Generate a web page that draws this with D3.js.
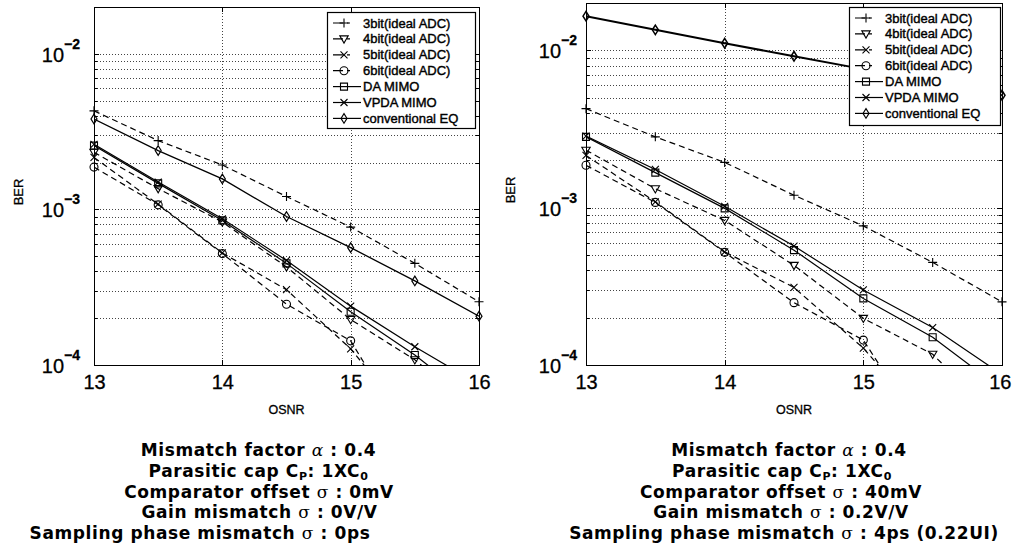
<!DOCTYPE html>
<html><head><meta charset="utf-8">
<script src="https://cdn.jsdelivr.net/npm/d3@7"></script>
<style>
html,body{margin:0;padding:0;background:#fff;}
svg{display:block;}
</style></head>
<body>
<script>
// ---------- data ----------
const osnr = [13, 13.5, 14, 14.5, 15, 15.5, 16];
const xTickValues = [13, 14, 15, 16];
const yTickExponents = [-4, -3, -2];
const seriesNames = ["3bit(ideal ADC)", "4bit(ideal ADC)", "5bit(ideal ADC)", "6bit(ideal ADC)", "DA MIMO", "VPDA MIMO", "conventional EQ"];
const seriesMarkers = ["plus", "triDown", "cross", "circle", "square", "cross", "diamond"];
const seriesDashed = [true, true, true, true, false, false, false];

// left panel (no mismatch)
const left3bit = [4.3e-3, 2.77e-3, 1.93e-3, 1.21e-3, 7.7e-4, 4.5e-4, 2.55e-4];
const left4bit = [2.33e-3, 1.36e-3, 8.3e-4, 4.27e-4, 1.96e-4, 1.08e-4, 5.0e-5];
const left5bit = [2.16e-3, 1.08e-3, 5.25e-4, 3.05e-4, 1.27e-4, 4.0e-5, 1.2e-5];
const left6bit = [1.87e-3, 1.07e-3, 5.2e-4, 2.46e-4, 1.43e-4, 3.0e-5, 1.0e-5];
const leftDA = [2.57e-3, 1.47e-3, 8.5e-4, 4.5e-4, 2.2e-4, 1.16e-4, 5.5e-5];
const leftVPDA = [2.62e-3, 1.5e-3, 8.7e-4, 4.7e-4, 2.39e-4, 1.31e-4, 7.5e-5];
const leftConvEQ = [3.81e-3, 2.39e-3, 1.57e-3, 9.0e-4, 5.68e-4, 3.47e-4, 2.06e-4];

// right panel (with mismatch)
const right3bit = [4.26e-3, 2.82e-3, 1.94e-3, 1.2e-3, 7.66e-4, 4.49e-4, 2.52e-4];
const right4bit = [2.32e-3, 1.32e-3, 8.3e-4, 4.3e-4, 1.98e-4, 1.17e-4, 4.3e-5];
const right5bit = [2.15e-3, 1.09e-3, 5.24e-4, 3.11e-4, 1.28e-4, 4.0e-5, 1.2e-5];
const right6bit = [1.86e-3, 1.08e-3, 5.2e-4, 2.49e-4, 1.44e-4, 3.0e-5, 1.0e-5];
const rightDA = [2.82e-3, 1.67e-3, 9.9e-4, 5.37e-4, 2.65e-4, 1.5e-4, 7.0e-5];
const rightVPDA = [2.85e-3, 1.75e-3, 1.02e-3, 5.7e-4, 3.0e-4, 1.73e-4, 8.7e-5];
const rightConvEQ = [1.65e-2, 1.35e-2, 1.11e-2, 9.17e-3, 7.6e-3, 6.3e-3, 5.18e-3];

const leftCaption = ["Mismatch factor |α| : 0.4", "Parasitic cap C_P: 1XC_0", "Comparator offset |σ| : 0mV", "Gain mismatch |σ| : 0V/V", "Sampling phase mismatch |σ| : 0ps"];
const rightCaption = ["Mismatch factor |α| : 0.4", "Parasitic cap C_P: 1XC_0", "Comparator offset |σ| : 40mV", "Gain mismatch |σ| : 0.2V/V", "Sampling phase mismatch |σ| : 4ps (0.22UI)"];

// ---------- layout ----------
const W = 1012, H = 554;
const panels = [
  {id: "L", x0: 94, x1: 479, y0: 7, y1: 365, series: [left3bit, left4bit, left5bit, left6bit, leftDA, leftVPDA, leftConvEQ],
   legend: {x: 327, y: 12, w: 148, h: 116}, yLabGap: 14, berX: 19, convW: 1.3,
   caption: leftCaption, capX: [258.5, 258.5, 259, 259.5, 200]},
  {id: "R", x0: 586, x1: 1002, y0: 3, y1: 365, series: [right3bit, right4bit, right5bit, right6bit, rightDA, rightVPDA, rightConvEQ],
   legend: {x: 849, y: 7, w: 151, h: 118}, yLabGap: 9, berX: 511, convW: 2,
   caption: rightCaption, capX: [789, 782, 781, 781, 784]}
];
const FONT = "'Liberation Sans', Arial, Helvetica, sans-serif";

const svg = d3.select("body").append("svg").attr("width", W).attr("height", H);

function markerPath(type) {
  switch (type) {
    case "plus": return "M-4.5,0H4.5M0,-4.5V4.5";
    case "cross": return "M-3.5,-3.5L3.5,3.5M-3.5,3.5L3.5,-3.5";
    case "triDown": return "M-4.2,-3L4.2,-3L0,4.2Z";
    case "circle": return "M4,0A4,4 0 1,1 -4,0A4,4 0 1,1 4,0Z";
    case "square": return "M-3.5,-3.5H3.5V3.5H-3.5Z";
    case "diamond": return "M0,-4.8L3,0L0,4.8L-3,0Z";
  }
}

panels.forEach(p => {
  const x = d3.scaleLinear().domain([13, 16]).range([p.x0, p.x1]);
  const y = d3.scaleLog().domain([1e-4, 2e-2]).range([p.y1, p.y0]);
  const g = svg.append("g");

  // grid
  const minorVals = [];
  for (let e = -4; e <= -2; e++) for (let k = 1; k <= 9; k++) {
    const v = k * Math.pow(10, e);
    if (v > 1e-4 * 1.001 && v < 2e-2 * 0.999) minorVals.push(v);
  }
  g.append("g").selectAll("line").data(minorVals).join("line")
    .attr("x1", p.x0).attr("x2", p.x1)
    .attr("y1", d => Math.round(y(d)) + 0.5).attr("y2", d => Math.round(y(d)) + 0.5)
    .attr("stroke", "#444").attr("stroke-width", 1).attr("stroke-dasharray", "1,2");
  g.append("g").selectAll("line").data([14, 15]).join("line")
    .attr("x1", d => Math.round(x(d)) + 0.5).attr("x2", d => Math.round(x(d)) + 0.5)
    .attr("y1", p.y0).attr("y2", p.y1)
    .attr("stroke", "#444").attr("stroke-width", 1).attr("stroke-dasharray", "1,2");

  // ticks (inward, all four sides)
  const tk = g.append("g").attr("stroke", "#000").attr("stroke-width", 1);
  minorVals.concat([1e-4, 1e-3, 1e-2]).forEach(v => {
    const isMajor = Math.abs(Math.log10(v) - Math.round(Math.log10(v))) < 1e-6;
    const len = isMajor ? 5 : 3.5;
    const yy = Math.round(y(v)) + 0.5;
    tk.append("line").attr("x1", p.x0).attr("x2", p.x0 + len).attr("y1", yy).attr("y2", yy);
    tk.append("line").attr("x1", p.x1).attr("x2", p.x1 - len).attr("y1", yy).attr("y2", yy);
  });
  xTickValues.forEach(v => {
    const xx = Math.round(x(v)) + 0.5;
    tk.append("line").attr("x1", xx).attr("x2", xx).attr("y1", p.y1).attr("y2", p.y1 - 5);
    tk.append("line").attr("x1", xx).attr("x2", xx).attr("y1", p.y0).attr("y2", p.y0 + 5);
  });

  // x axis labels
  const xAxis = d3.axisBottom(x).tickValues(xTickValues).tickSize(0).tickPadding(0).tickFormat(d3.format("d"));
  const xa = g.append("g").attr("transform", `translate(0,${p.y1})`).call(xAxis);
  xa.select(".domain").remove();
  xa.selectAll("text").attr("font-family", FONT).attr("font-size", 20).attr("fill", "#000")
    .attr("stroke", "#000").attr("stroke-width", 0.3).attr("dy", "1.2em");
  // keep the last label inside the page edge
  xa.selectAll(".tick").each(function (d) {
    const xx = x(d);
    if (xx + 11 > W - 1) d3.select(this).select("text").attr("text-anchor", "end").attr("x", (W - 1) - xx);
  });

  // y axis labels 10^e
  const ya = g.append("g");
  yTickExponents.forEach(e => {
    const yy = y(Math.pow(10, e));
    const t = ya.append("text").attr("x", p.x0 - p.yLabGap).attr("y", yy + 8)
      .attr("text-anchor", "end").attr("font-family", FONT).attr("font-size", 20).attr("fill", "#000")
      .attr("stroke", "#000").attr("stroke-width", 0.3);
    t.append("tspan").text("10");
    t.append("tspan").attr("dy", -13).attr("font-size", 14).attr("font-weight", "bold").text("\u2212" + Math.abs(e));
  });

  // axis titles
  g.append("text").attr("transform", `translate(${p.berX + 4},${(p.y0 + p.y1) / 2 + 6}) rotate(-90)`)
    .attr("text-anchor", "middle").attr("font-family", FONT).attr("font-size", 13)
    .attr("stroke", "#000").attr("stroke-width", 0.3).text("BER");
  g.append("text").attr("x", (p.x0 + p.x1) / 2).attr("y", 414)
    .attr("text-anchor", "middle").attr("font-family", FONT).attr("font-size", 12.5)
    .attr("stroke", "#000").attr("stroke-width", 0.3).text("OSNR");

  // clip
  svg.append("clipPath").attr("id", "clip" + p.id).append("rect")
    .attr("x", p.x0).attr("y", p.y0).attr("width", p.x1 - p.x0).attr("height", p.y1 - p.y0);

  const line = d3.line().x((d, i) => x(osnr[i])).y(d => y(d));
  const lines = g.append("g").attr("clip-path", `url(#clip${p.id})`);
  const marks = g.append("g");
  p.series.forEach((vals, si) => {
    const sw = si === 6 ? p.convW : 1.2;
    lines.append("path").attr("d", line(vals)).attr("fill", "none").attr("stroke", "#000")
      .attr("stroke-width", sw).attr("stroke-dasharray", seriesDashed[si] ? "6,4" : null);
    vals.forEach((v, i) => {
      if (v < 1e-4 * 0.97 || v > 2e-2) return;
      marks.append("path").attr("d", markerPath(seriesMarkers[si]))
        .attr("transform", `translate(${x(osnr[i])},${y(v)})`)
        .attr("fill", "none").attr("stroke", "#000").attr("stroke-width", si === 6 ? Math.max(1.2, p.convW - 0.5) : 1.1);
    });
  });

  // axes box
  g.append("rect").attr("x", p.x0 + 0.5).attr("y", p.y0 + 0.5).attr("width", p.x1 - p.x0).attr("height", p.y1 - p.y0)
    .attr("fill", "none").attr("stroke", "#000").attr("stroke-width", 1);

  // legend
  const L = p.legend;
  const lg = g.append("g");
  lg.append("rect").attr("x", L.x + 0.5).attr("y", L.y + 0.5).attr("width", L.w).attr("height", L.h)
    .attr("fill", "#fff").attr("stroke", "#000").attr("stroke-width", 1.2);
  seriesNames.forEach((name, si) => {
    const ry = L.y + 11 + si * 15.9;
    lg.append("line").attr("x1", L.x + 6).attr("x2", L.x + 34).attr("y1", ry).attr("y2", ry)
      .attr("stroke", "#000").attr("stroke-width", 1.2).attr("stroke-dasharray", seriesDashed[si] ? "10,4,3,20" : null);
    lg.append("path").attr("d", markerPath(seriesMarkers[si])).attr("transform", `translate(${L.x + 17},${ry})`)
      .attr("fill", "none").attr("stroke", "#000").attr("stroke-width", 1.1);
    lg.append("text").attr("x", L.x + 36).attr("y", ry + 4.5).attr("font-family", FONT).attr("font-size", 13)
      .attr("stroke", "#000").attr("stroke-width", 0.4).text(name);
  });

  // caption
  p.caption.forEach((ln, i) => {
    const t = svg.append("text").attr("x", p.capX[i]).attr("y", 456 + i * 20.8).attr("text-anchor", "middle")
      .attr("font-family", "'DejaVu Sans', sans-serif").attr("font-weight", "bold").attr("font-size", 17)
      .attr("letter-spacing", 0.6).attr("fill", "#000");
    // parse: |...| = greek symbol, _X = subscript char
    const re = /(\|[^|]+\||_[A-Z0-9])/g;
    let last = 0, m, pendingDy = 0;
    const addPlain = s => {
      const ts = t.append("tspan").text(s);
      if (pendingDy) { ts.attr("dy", pendingDy); pendingDy = 0; }
    };
    while ((m = re.exec(ln)) !== null) {
      if (m.index > last) addPlain(ln.slice(last, m.index));
      if (m[0][0] === "|") {
        const sym = m[0].slice(1, -1);
        const ts = t.append("tspan").attr("font-family", "'DejaVu Serif', serif").attr("font-weight", "normal")
          .attr("font-style", sym === "α" ? "italic" : "normal").text(sym);
        if (pendingDy) { ts.attr("dy", pendingDy); pendingDy = 0; }
      } else {
        t.append("tspan").attr("font-size", 11).attr("dy", 3 + pendingDy).text(m[0].slice(1));
        pendingDy = -3;
      }
      last = m.index + m[0].length;
    }
    if (last < ln.length) addPlain(ln.slice(last));
  });
});
</script>
</body></html>
